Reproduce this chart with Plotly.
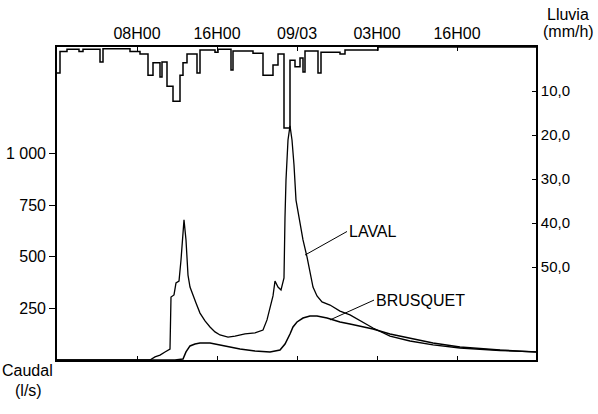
import plotly.graph_objects as go

# ---- data (time in hours from 08/03 00H00) ----
laval_t = [0, 9.3, 9.8, 10.3, 10.8, 11.3, 11.4, 11.7, 11.9, 12.2, 12.4, 12.6, 12.7, 12.9, 13.1,
           13.3, 13.6, 13.9, 14.3, 14.8, 15.3, 15.8, 16.3, 17.1, 17.8, 18.8, 19.8, 20.6, 21.0,
           21.4, 21.6, 21.8, 22.1, 22.4, 22.7, 22.8, 22.9, 23.1, 23.3, 23.5, 23.7, 23.9, 24.3,
           24.6, 25.0, 25.3, 25.6, 26.0, 26.5, 27.3, 27.8, 28.3, 29.3, 30.3, 31.6, 33.3, 35.3,
           37.6, 40.3, 44.3, 47.9]
laval_q = [0, 0, 15, 24, 39, 53, 305, 315, 373, 382, 484, 629, 678, 581, 411,
           353, 310, 276, 227, 189, 160, 136, 121, 111, 116, 126, 131, 145, 194,
           266, 310, 382, 353, 339, 397, 692, 871, 1065, 1133, 1065, 944, 774, 663,
           581, 499, 421, 353, 310, 281, 266, 252, 237, 218, 189, 155, 116, 92,
           73, 58, 46, 39]

brusquet_t = [0, 11.8, 12.6, 12.9, 13.3, 13.8, 14.3, 15.3, 16.3, 17.3, 18.3, 19.8, 21.3, 22.3,
              22.8, 23.3, 23.6, 24.0, 24.6, 25.3, 26.0, 27.0, 28.3, 29.3, 30.3, 31.6, 33.3,
              35.3, 37.6, 40.3, 44.3, 47.9]
brusquet_q = [0, 0, 5, 39, 68, 77, 82, 82, 73, 63, 53, 44, 39, 48,
              77, 126, 160, 184, 203, 213, 213, 203, 184, 174, 165, 150, 126,
              106, 82, 63, 48, 39]

rain_t = [0, 0.3, 1.0, 2.2, 2.6, 4.3, 4.6, 7.3, 8.3, 9.1, 9.6, 10.3, 10.5, 11.0, 11.6, 12.3,
          12.6, 13.0, 14.0, 14.3, 15.8, 16.1, 17.4, 17.6, 19.6, 20.6, 21.6, 22.1, 22.7, 23.3,
          23.8, 24.3, 24.6, 24.8, 26.1, 26.4, 28.3, 28.8, 32.1, 47.9]
rain_mm = [5.9, 1.0, 0.5, 1.0, 0.5, 3.4, 0.4, 1.0, 1.6, 6.4, 3.6, 6.8, 3.4, 8.9, 12.3, 6.4,
           3.6, 1.6, 5.9, 0.7, 1.2, 0.5, 5.2, 0.9, 1.4, 6.4, 4.1, 1.6, 18.4, 3.0,
           4.5, 2.5, 5.7, 0.9, 5.9, 1.2, 1.6, 0.7, 0.0, 0.0]

x_tickvals = [8, 16, 24, 32, 40]
x_ticktext = ["08H00", "16H00", "09/03", "03H00", "16H00"]
q_tickvals = [250, 500, 750, 1000]
q_ticktext = ["250", "500", "750", "1 000"]
r_tickvals = [10, 20, 30, 40, 50]
r_ticktext = ["10,0", "20,0", "30,0", "40,0", "50,0"]

FONT = "Liberation Sans, Arial, Helvetica, sans-serif"

fig = go.Figure()
fig.add_trace(go.Scatter(x=laval_t, y=laval_q, mode="lines",
                         line=dict(color="black", width=1.3), name="LAVAL"))
fig.add_trace(go.Scatter(x=brusquet_t, y=brusquet_q, mode="lines",
                         line=dict(color="black", width=1.5), name="BRUSQUET"))
fig.add_trace(go.Scatter(x=rain_t, y=rain_mm, mode="lines", yaxis="y2",
                         line=dict(color="black", width=1.5, shape="hv"), name="Lluvia"))

fig.update_layout(
    width=598, height=414,
    margin=dict(l=57, r=62, t=47, b=54, autoexpand=False),
    paper_bgcolor="white", plot_bgcolor="white",
    showlegend=False,
    font=dict(family=FONT, size=16, color="black"),
    xaxis=dict(range=[0, 47.9], side="top", tickvals=x_tickvals, ticktext=x_ticktext,
               ticks="inside", ticklen=4, tickcolor="black", showgrid=False, zeroline=False,
               showline=True, linecolor="black", linewidth=1.6, mirror="ticks",
               tickfont=dict(size=16), automargin=False),
    yaxis=dict(range=[0, 1515], tickvals=q_tickvals, ticktext=q_ticktext,
               ticks="outside", ticklen=6, tickcolor="black", showgrid=False, zeroline=False,
               showline=True, linecolor="black", linewidth=1.6, tickfont=dict(size=16),
               automargin=False),
    yaxis2=dict(range=[71.1, 0], overlaying="y", side="right", tickvals=r_tickvals,
                ticktext=r_ticktext, ticks="inside", ticklen=4, tickcolor="black",
                showgrid=False, zeroline=False, showline=True, linecolor="black",
                linewidth=1.6, tickfont=dict(size=15), automargin=False),
)

fig.add_annotation(x=24.8, y=508, ax=29.0, ay=622, xref="x", yref="y", axref="x", ayref="y",
                   text="LAVAL", showarrow=True, arrowhead=0, arrowwidth=1, arrowcolor="black",
                   xanchor="left", font=dict(size=16))
fig.add_annotation(x=27.3, y=194, ax=31.7, ay=290, xref="x", yref="y", axref="x", ayref="y",
                   text="BRUSQUET", showarrow=True, arrowhead=0, arrowwidth=1, arrowcolor="black",
                   xanchor="left", font=dict(size=16))

for txt, px, py in [("Caudal", 27, 371), ("(l/s)", 28, 390), ("Lluvia", 568, 14), ("(mm/h)", 568, 32)]:
    fig.add_annotation(x=(px - 57) / 479, y=(360 - py) / 313, xref="paper", yref="paper",
                       text=txt, showarrow=False, xanchor="center", yanchor="middle",
                       font=dict(size=16))

fig.write_html("out.html", config={"displayModeBar": False},
               post_script="document.body.style.margin='0';")
